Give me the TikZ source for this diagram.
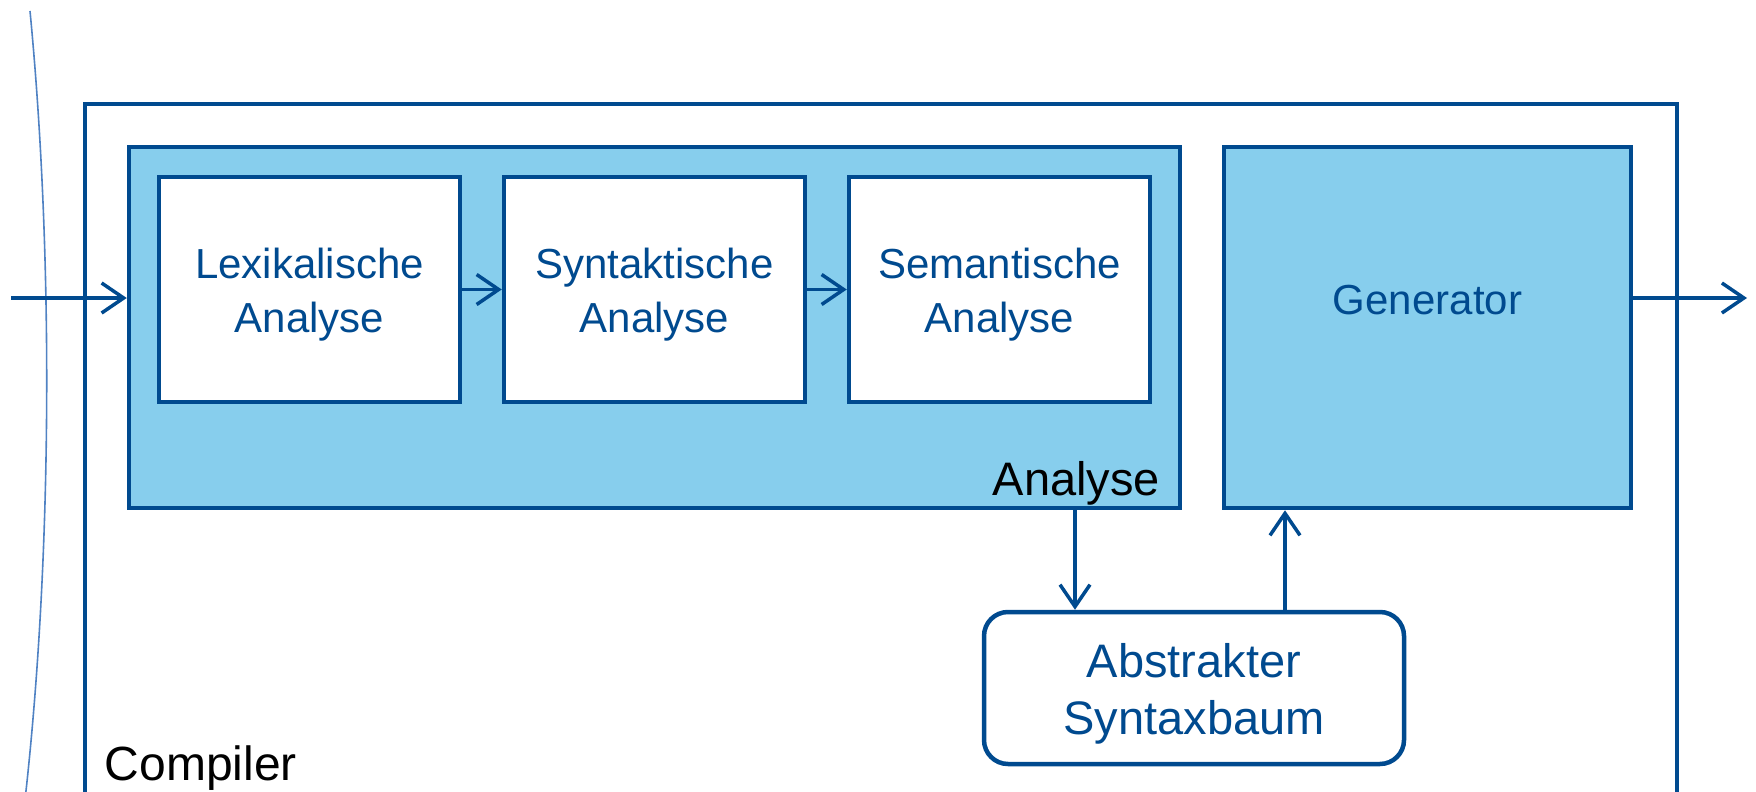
\documentclass[tikz,border=0pt]{standalone}
\usepackage{fontspec}
\setmainfont{Liberation Sans}
\usetikzlibrary{arrows.meta,calc}
\definecolor{cdark}{RGB}{0,74,143}
\definecolor{cfill}{RGB}{135,206,237}
\definecolor{cedge}{RGB}{80,130,195}
\tikzset{
  phase/.style={draw=cdark, line width=4.5pt, fill=white, inner sep=0pt,
    minimum width=301pt, minimum height=225pt},
  phasetext/.style={text=cdark, inner sep=0pt, align=center,
    font=\fontsize{42}{54}\selectfont},
  group/.style={draw=cdark, line width=4.5pt, fill=cfill, inner sep=0pt},
  store/.style={draw=cdark, line width=4.5pt, fill=white, rounded corners=24pt,
    inner sep=0pt},
  storetext/.style={text=cdark, inner sep=0pt, align=center,
    font=\fontsize{47}{57}\selectfont},
  flow/.style={draw=cdark, line width=3.5pt,
    -{Straight Barb[length=22pt,width=30pt,line width=3.5pt]}},
  tag/.style={text=black, inner sep=0pt, font=\fontsize{48}{56}\selectfont}
}
\begin{document}
\begin{tikzpicture}[x=1pt,y=-1pt]
\useasboundingbox (0,0) rectangle (1756,792);

% boundary of the environment
\draw[cedge, line width=1.6pt] (30,11) .. controls (54,260) and (52,560) .. (25,800);

% compiler frame
\node[draw=cdark, line width=4.5pt, inner sep=0pt, minimum width=1592pt,
  minimum height=690pt] (comp) at (881,449) {};
\node[tag, anchor=base west] (comptag) at ($(comp.south west)+(22,-16)$) {Compiler};

% analysis group
\node[group, minimum width=1051pt, minimum height=361pt] (ana) at (654.5,327.5) {};
\node[tag, font=\fontsize{47}{56}\selectfont, anchor=base east] (anatag)
  at ($(ana.south east)+(-22,-15)$) {Analyse};

\node[phase] (lex) at (309.5,289.5) {};
\node[phase] (syn) at (654.5,289.5) {};
\node[phase] (sem) at (999.5,289.5) {};
\node[phasetext] (lextxt) at ($(lex.center)+(0,5)$) {Lexikalische\\Analyse};
\node[phasetext] (syntxt) at ($(syn.center)+(0,5)$) {Syntaktische\\Analyse};
\node[phasetext] (semtxt) at ($(sem.center)+(0,5)$) {Semantische\\Analyse};

% generator
\node[group, minimum width=407pt, minimum height=361pt] (gen) at (1427.5,327.5) {};
\node[phasetext] (gentxt) at ($(gen.center)+(0,-27.5)$) {Generator};

% abstract syntax tree
\node[store, minimum width=420pt, minimum height=152pt] (asb) at (1194,688) {};
\node[storetext] (asbtxt) at ($(asb.center)+(0,6)$) {Abstrakter\\Syntaxbaum};

% connectors
\coordinate (src) at (11,298);
\coordinate (dst) at (1747,298);
\coordinate (down) at (1075,560);
\coordinate (up) at (1285,560);

\draw[flow] (src) -- (src -| ana.west);
\draw[flow] (lex.east) -- (syn.west);
\draw[flow] (syn.east) -- (sem.west);
\draw[flow] (dst -| gen.east) -- (dst);
\draw[flow] (down |- ana.south) -- (down |- asb.north);
\draw[flow] (up |- asb.north) -- (up |- gen.south);
\end{tikzpicture}
\end{document}
